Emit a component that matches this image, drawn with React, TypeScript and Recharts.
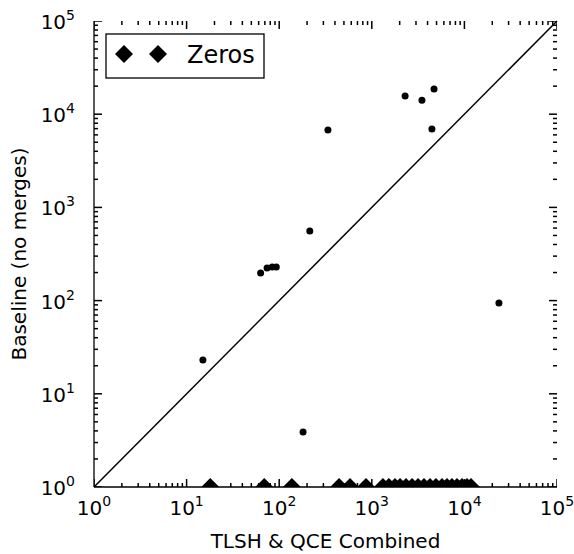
import React from 'react';
import { ScatterChart, Scatter, XAxis, YAxis, ReferenceLine, Label } from 'recharts';

// Non-zero points: x = TLSH & QCE Combined, y = Baseline (no merges)
const combinedValues = [15, 63, 74, 84, 93, 214, 336, 2290, 3480, 4700, 4460, 23600, 181];
const baselineValues = [23, 198, 224, 230, 230, 558, 6760, 15700, 14100, 18600, 6950, 94, 3.9];

// "Zeros" points: baseline was zero, drawn on the bottom of the plot (y = 1)
const zerosCombined = [18, 69, 137, 443, 582, 866, 1320, 1530, 1780, 2020, 2340, 2720, 3160, 3660, 4250, 4930, 5730, 6490, 7340, 8320, 9420, 10670, 11790];
const zerosBaseline = 1;

const AXIS_MIN = 1;
const AXIS_MAX = 100000;
const majorTicks = [1, 10, 100, 1000, 10000, 100000];
const minorMantissas = [2, 3, 4, 5, 6, 7, 8, 9];
const minorDecades = [1, 10, 100, 1000, 10000];
const minorTicks = minorDecades.flatMap((d) => minorMantissas.map((m) => m * d));
const allTicks = [...majorTicks, ...minorTicks].sort((a, b) => a - b);
const diagonal = [{ x: AXIS_MIN, y: AXIS_MIN }, { x: AXIS_MAX, y: AXIS_MAX }];

const scatterData = combinedValues.map((x, i) => ({ x, y: baselineValues[i] }));
const zerosData = zerosCombined.map((x) => ({ x, y: zerosBaseline }));

// tick-mark anchors on the four edges of the frame
const bottomTickData = allTicks.map((v) => ({ x: v, y: AXIS_MIN, t: v }));
const topTickData = allTicks.map((v) => ({ x: v, y: AXIS_MAX, t: v }));
const leftTickData = allTicks.map((v) => ({ x: AXIS_MIN, y: v, t: v }));
const rightTickData = allTicks.map((v) => ({ x: AXIS_MAX, y: v, t: v }));

const FONT = 'DejaVu Sans';
const MAJOR_LEN = 8;
const MINOR_LEN = 4;
const TICK_W = 1.5;

const isMajor = (v: number) => majorTicks.includes(v);
const expOf = (v: number) => Math.round(Math.log10(v));
const lenOf = (p: any) => (isMajor(p.payload?.t ?? p.t) ? MAJOR_LEN : MINOR_LEN);

const BottomLabel = (props: any) => {
  const x = Number(props.x);
  const y = Number(props.y);
  const v = props.payload.value;
  if (!isMajor(v)) return <g />;
  return (
    <text x={x} y={y + 28} textAnchor="middle" fontSize={20} fontFamily={FONT} fill="#000">
      10<tspan dy={-9} fontSize={14}>{expOf(v)}</tspan>
    </text>
  );
};

const LeftLabel = (props: any) => {
  const x = Number(props.x);
  const y = Number(props.y);
  const v = props.payload.value;
  if (!isMajor(v)) return <g />;
  return (
    <text x={x - 19} y={y + 8} textAnchor="end" fontSize={20} fontFamily={FONT} fill="#000">
      10<tspan dy={-9} fontSize={14}>{expOf(v)}</tspan>
    </text>
  );
};

const TickUp = (p: any) => <path d={`M${p.cx},${p.cy}V${p.cy - lenOf(p)}`} stroke="#000" strokeWidth={TICK_W} fill="none" />;
const TickDown = (p: any) => <path d={`M${p.cx},${p.cy}V${p.cy + lenOf(p)}`} stroke="#000" strokeWidth={TICK_W} fill="none" />;
const TickRight = (p: any) => <path d={`M${p.cx},${p.cy}H${p.cx + lenOf(p)}`} stroke="#000" strokeWidth={TICK_W} fill="none" />;
const TickLeft = (p: any) => <path d={`M${p.cx},${p.cy}H${p.cx - lenOf(p)}`} stroke="#000" strokeWidth={TICK_W} fill="none" />;

const Dot = (props: any) => <circle cx={props.cx} cy={props.cy} r={3.5} fill="#000" />;
const HalfDiamond = (props: any) => {
  const { cx, cy } = props;
  const h = 9;
  return <polygon points={`${cx - h},${cy} ${cx},${cy - h} ${cx + h},${cy}`} fill="#000" />;
};

const axisLine = { stroke: '#000', strokeWidth: 1.3 };

export default function App() {
  return (
    <div style={{ position: 'absolute', left: 0, top: 0, width: 574, height: 554, background: '#fff' }}>
      <ScatterChart width={574} height={554} margin={{ top: 21, right: 17, bottom: 0, left: 0 }}>
        <XAxis
          dataKey="x"
          type="number"
          scale="log"
          domain={[AXIS_MIN, AXIS_MAX]}
          allowDataOverflow
          ticks={allTicks}
          interval={0}
          tickSize={0}
          tickMargin={0}
          tickLine={false}
          tick={BottomLabel}
          axisLine={axisLine}
          height={67}
          orientation="bottom"
        >
          <Label
            content={(p: any) => {
              const vb = p.viewBox;
              return (
                <text x={vb.x + vb.width / 2} y={vb.y + 61} textAnchor="middle" fontSize={20} fontFamily={FONT} fill="#000">
                  TLSH &amp; QCE Combined
                </text>
              );
            }}
          />
        </XAxis>
        <XAxis
          xAxisId="t"
          dataKey="x"
          type="number"
          scale="log"
          domain={[AXIS_MIN, AXIS_MAX]}
          allowDataOverflow
          ticks={majorTicks}
          tick={false}
          tickLine={false}
          axisLine={axisLine}
          height={0}
          orientation="top"
        />
        <YAxis
          dataKey="y"
          type="number"
          scale="log"
          domain={[AXIS_MIN, AXIS_MAX]}
          allowDataOverflow
          ticks={allTicks}
          interval={0}
          tickSize={0}
          tickMargin={0}
          tickLine={false}
          tick={LeftLabel}
          axisLine={axisLine}
          width={94}
          orientation="left"
        >
          <Label
            content={(p: any) => {
              const vb = p.viewBox;
              const cx = vb.x + 26;
              const cy = vb.y + vb.height / 2;
              return (
                <text x={cx} y={cy} transform={`rotate(-90 ${cx} ${cy})`} textAnchor="middle" fontSize={20} fontFamily={FONT} fill="#000">
                  Baseline (no merges)
                </text>
              );
            }}
          />
        </YAxis>
        <YAxis
          yAxisId="r"
          dataKey="y"
          type="number"
          scale="log"
          domain={[AXIS_MIN, AXIS_MAX]}
          allowDataOverflow
          ticks={majorTicks}
          tick={false}
          tickLine={false}
          axisLine={axisLine}
          width={0}
          orientation="right"
        />
        <Scatter data={bottomTickData} shape={TickUp} isAnimationActive={false} legendType="none" />
        <Scatter data={topTickData} shape={TickDown} isAnimationActive={false} legendType="none" />
        <Scatter data={leftTickData} shape={TickRight} isAnimationActive={false} legendType="none" />
        <Scatter data={rightTickData} shape={TickLeft} isAnimationActive={false} legendType="none" />
        <ReferenceLine segment={diagonal} stroke="#000" strokeWidth={1.5} ifOverflow="visible" />
        <Scatter data={scatterData} shape={<Dot />} isAnimationActive={false} />
        <Scatter data={zerosData} shape={<HalfDiamond />} isAnimationActive={false} />
      </ScatterChart>
      <svg style={{ position: 'absolute', left: 0, top: 0 }} width={574} height={554} pointerEvents="none">
        <rect x={106} y={34} width={158} height={44} fill="#fff" stroke="#000" strokeWidth={1.3} />
        <polygon points="115,54 124,45 133,54 124,63" fill="#000" />
        <polygon points="149,54 158,45 167,54 158,63" fill="#000" />
        <text x={187} y={63} fontSize={24} fontFamily={FONT} fill="#000">Zeros</text>
      </svg>
    </div>
  );
}
